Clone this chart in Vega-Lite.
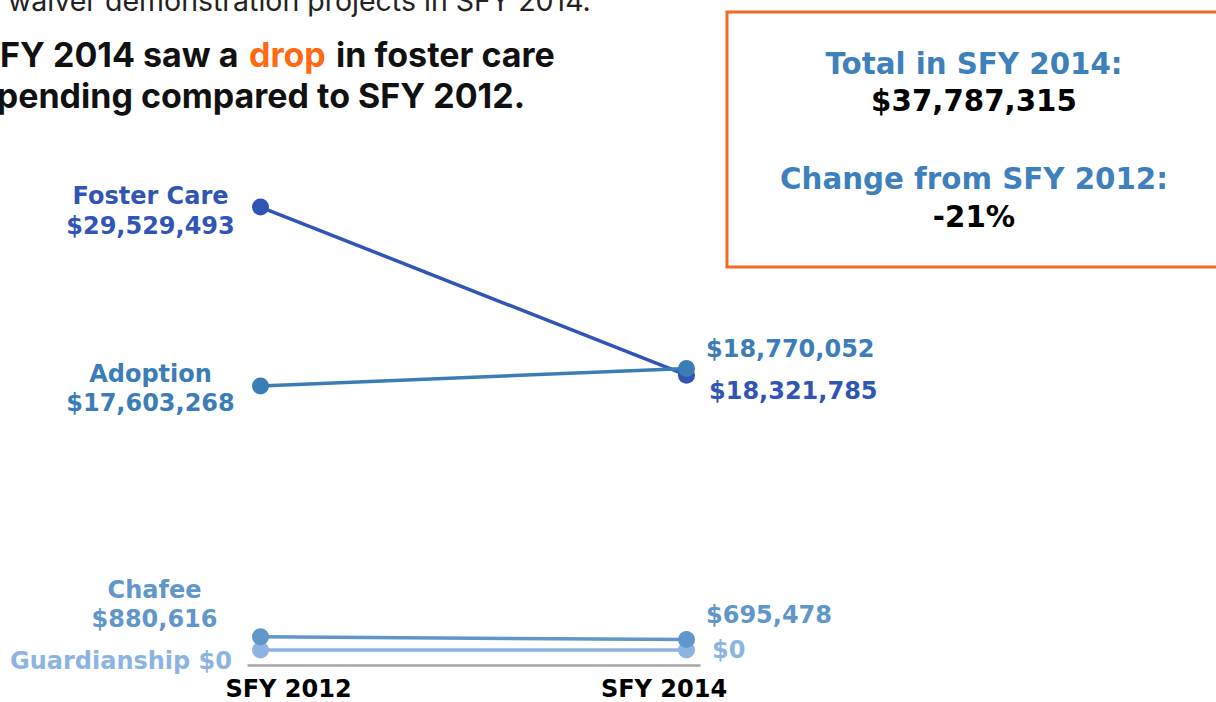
{
  "$schema": "https://vega.github.io/schema/vega-lite/v6.json",
  "autosize": "none",
  "width": 453,
  "height": 480,
  "padding": {"left": 247, "top": 170, "right": 516, "bottom": 52},
  "background": "white",
  "config": {"view": {"stroke": null}},
  "data": {"values": [
    {"series": "Guardianship", "year": 2012, "value": 0},
    {"series": "Guardianship", "year": 2014, "value": 0},
    {"series": "Foster Care", "year": 2012, "value": 29529493},
    {"series": "Foster Care", "year": 2014, "value": 18321785},
    {"series": "Chafee", "year": 2012, "value": 880616},
    {"series": "Chafee", "year": 2014, "value": 695478},
    {"series": "Adoption", "year": 2012, "value": 17603268},
    {"series": "Adoption", "year": 2014, "value": 18770052}
  ]},
  "encoding": {
    "x": {"field": "year", "type": "quantitative",
      "scale": {"domain": [2011.9366, 2014.0634], "nice": false, "zero": false},
      "axis": {"values": [2012, 2014], "labelExpr": "'SFY ' + datum.value", "title": null, "grid": false,
        "ticks": false, "tickSize": 0, "domainColor": "#a6a6a6", "domainWidth": 2.5, "offset": 15,
        "labelFont": "DejaVu Sans", "labelFontWeight": "bold", "labelFontSize": 24, "labelColor": "#000000",
        "labelBaseline": "alphabetic", "labelPadding": 31.5, "labelFlush": false, "labelOverlap": false, "labelBound": false,
        "labelOffset": {"condition": {"test": "datum.value == 2012", "value": 27.5}, "value": -23}}},
    "y": {"field": "value", "type": "quantitative",
      "scale": {"domain": [0, 32000000], "nice": false, "zero": false}, "axis": null}
  },
  "layer": [
    {"transform": [{"filter": "datum.year == 2012 && datum.series == 'Foster Care'"}],
     "mark": {"type": "rect", "fill": "white", "stroke": "#f26b22", "strokeWidth": 3},
     "encoding": {"x": {"datum": 2014.1901, "type": "quantitative"}, "x2": {"datum": 2016.52}, "y": {"datum": 42533333, "type": "quantitative"}, "y2": {"datum": 25533333}}},
    {"mark": {"type": "line", "strokeWidth": 3.5},
     "encoding": {"color": {"field": "series", "type": "nominal", "legend": null,
       "scale": {"domain": ["Foster Care", "Adoption", "Chafee", "Guardianship"], "range": ["#3155b5", "#3b7db6", "#6096c9", "#8db4e0"]}}}},
    {"mark": {"type": "circle", "size": 290, "opacity": 1},
     "encoding": {"color": {"field": "series", "type": "nominal", "legend": null}}},
    {"transform": [{"filter": "datum.year == 2012 && datum.series == 'Foster Care'"}, {"calculate": "datum.series + '\\n' + format(datum.value, '$,.0f')", "as": "label"}],
     "mark": {"type": "text", "align": "center", "baseline": "middle", "dx": -110, "dy": -10, "lineBreak": "\n", "lineHeight": 29.5, "font": "DejaVu Sans", "fontWeight": "bold", "fontSize": 24},
     "encoding": {"text": {"field": "label"}, "color": {"field": "series", "type": "nominal", "legend": null}}},
    {"transform": [{"filter": "datum.year == 2012 && datum.series == 'Adoption'"}, {"calculate": "datum.series + '\\n' + format(datum.value, '$,.0f')", "as": "label"}],
     "mark": {"type": "text", "align": "center", "baseline": "middle", "dx": -110, "dy": -11, "lineBreak": "\n", "lineHeight": 29.5, "font": "DejaVu Sans", "fontWeight": "bold", "fontSize": 24},
     "encoding": {"text": {"field": "label"}, "color": {"field": "series", "type": "nominal", "legend": null}}},
    {"transform": [{"filter": "datum.year == 2012 && datum.series == 'Chafee'"}, {"calculate": "datum.series + '\\n' + format(datum.value, '$,.0f')", "as": "label"}],
     "mark": {"type": "text", "align": "center", "baseline": "middle", "dx": -106, "dy": -46, "lineBreak": "\n", "lineHeight": 29.5, "font": "DejaVu Sans", "fontWeight": "bold", "fontSize": 24},
     "encoding": {"text": {"field": "label"}, "color": {"field": "series", "type": "nominal", "legend": null}}},
    {"transform": [{"filter": "datum.year == 2012 && datum.series == 'Guardianship'"}, {"calculate": "datum.series + ' ' + format(datum.value, '$,.0f')", "as": "label"}],
     "mark": {"type": "text", "align": "right", "baseline": "middle", "dx": -28.5, "dy": 12, "font": "DejaVu Sans", "fontWeight": "bold", "fontSize": 24},
     "encoding": {"text": {"field": "label"}, "color": {"field": "series", "type": "nominal", "legend": null}}},
    {"transform": [{"filter": "datum.year == 2014 && datum.series == 'Adoption'"}],
     "mark": {"type": "text", "align": "left", "baseline": "middle", "dx": 19.5, "dy": -18, "font": "DejaVu Sans", "fontWeight": "bold", "fontSize": 24},
     "encoding": {"text": {"field": "value", "type": "quantitative", "format": "$,.0f"}, "color": {"field": "series", "type": "nominal", "legend": null}}},
    {"transform": [{"filter": "datum.year == 2014 && datum.series == 'Foster Care'"}],
     "mark": {"type": "text", "align": "left", "baseline": "middle", "dx": 22.5, "dy": 17, "font": "DejaVu Sans", "fontWeight": "bold", "fontSize": 24},
     "encoding": {"text": {"field": "value", "type": "quantitative", "format": "$,.0f"}, "color": {"field": "series", "type": "nominal", "legend": null}}},
    {"transform": [{"filter": "datum.year == 2014 && datum.series == 'Chafee'"}],
     "mark": {"type": "text", "align": "left", "baseline": "middle", "dx": 19.5, "dy": -23.5, "font": "DejaVu Sans", "fontWeight": "bold", "fontSize": 24},
     "encoding": {"text": {"field": "value", "type": "quantitative", "format": "$,.0f"}, "color": {"field": "series", "type": "nominal", "legend": null}}},
    {"transform": [{"filter": "datum.year == 2014 && datum.series == 'Guardianship'"}],
     "mark": {"type": "text", "align": "left", "baseline": "middle", "dx": 25.5, "dy": 1, "font": "DejaVu Sans", "fontWeight": "bold", "fontSize": 24},
     "encoding": {"text": {"field": "value", "type": "quantitative", "format": "$,.0f"}, "color": {"field": "series", "type": "nominal", "legend": null}}},
    {"transform": [{"filter": "datum.year == 2012 && datum.series == 'Foster Care'"}],
     "mark": {"type": "text", "text": "Total in SFY 2014:", "align": "center", "baseline": "alphabetic", "font": "DejaVu Sans", "fontWeight": "bold", "fontSize": 29.3, "color": "#3d80bb"},
     "encoding": {"x": {"datum": 2015.3497, "type": "quantitative"}, "y": {"datum": 38400000, "type": "quantitative"}}},
    {"transform": [{"filter": "datum.year == 2012 && datum.series == 'Foster Care'"}],
     "mark": {"type": "text", "text": "$37,787,315", "align": "center", "baseline": "alphabetic", "font": "DejaVu Sans", "fontWeight": "bold", "fontSize": 29.3, "color": "#000000"},
     "encoding": {"x": {"datum": 2015.3497, "type": "quantitative"}, "y": {"datum": 35933333, "type": "quantitative"}}},
    {"transform": [{"filter": "datum.year == 2012 && datum.series == 'Foster Care'"}],
     "mark": {"type": "text", "text": "Change from SFY 2012:", "align": "center", "baseline": "alphabetic", "font": "DejaVu Sans", "fontWeight": "bold", "fontSize": 29.3, "color": "#3d80bb"},
     "encoding": {"x": {"datum": 2015.3497, "type": "quantitative"}, "y": {"datum": 30733333, "type": "quantitative"}}},
    {"transform": [{"filter": "datum.year == 2012 && datum.series == 'Foster Care'"}],
     "mark": {"type": "text", "text": "-21%", "align": "center", "baseline": "alphabetic", "font": "DejaVu Sans", "fontWeight": "bold", "fontSize": 29.3, "color": "#000000"},
     "encoding": {"x": {"datum": 2015.3497, "type": "quantitative"}, "y": {"datum": 28200000, "type": "quantitative"}}},
    {"transform": [{"filter": "datum.year == 2012 && datum.series == 'Foster Care'"}],
     "mark": {"type": "text", "text": "waiver demonstration projects in SFY 2014.", "align": "left", "baseline": "alphabetic", "font": "Inter", "fontWeight": "normal", "fontSize": 28.5, "color": "#222222"},
     "encoding": {"x": {"datum": 2010.8145, "type": "quantitative"}, "y": {"datum": 42600000, "type": "quantitative"}}},
    {"transform": [{"filter": "datum.year == 2012 && datum.series == 'Foster Care'"}],
     "mark": {"type": "text", "text": "SFY 2014 saw a", "align": "right", "baseline": "alphabetic", "font": "Inter", "fontWeight": "bold", "fontSize": 34, "color": "#111111"},
     "encoding": {"x": {"datum": 2011.8967, "type": "quantitative"}, "y": {"datum": 38900000, "type": "quantitative"}}},
    {"transform": [{"filter": "datum.year == 2012 && datum.series == 'Foster Care'"}],
     "mark": {"type": "text", "text": "drop", "align": "left", "baseline": "alphabetic", "font": "Inter", "fontWeight": "bold", "fontSize": 34, "color": "#ff6a13"},
     "encoding": {"x": {"datum": 2011.946, "type": "quantitative"}, "y": {"datum": 38900000, "type": "quantitative"}}},
    {"transform": [{"filter": "datum.year == 2012 && datum.series == 'Foster Care'"}],
     "mark": {"type": "text", "text": "in foster care", "align": "left", "baseline": "alphabetic", "font": "Inter", "fontWeight": "bold", "fontSize": 34, "color": "#111111"},
     "encoding": {"x": {"datum": 2012.3545, "type": "quantitative"}, "y": {"datum": 38900000, "type": "quantitative"}}},
    {"transform": [{"filter": "datum.year == 2012 && datum.series == 'Foster Care'"}],
     "mark": {"type": "text", "text": "Spending compared to SFY 2012.", "align": "right", "baseline": "alphabetic", "font": "Inter", "fontWeight": "bold", "fontSize": 34, "color": "#111111"},
     "encoding": {"x": {"datum": 2013.2418, "type": "quantitative"}, "y": {"datum": 36133333, "type": "quantitative"}}}
  ]
}
